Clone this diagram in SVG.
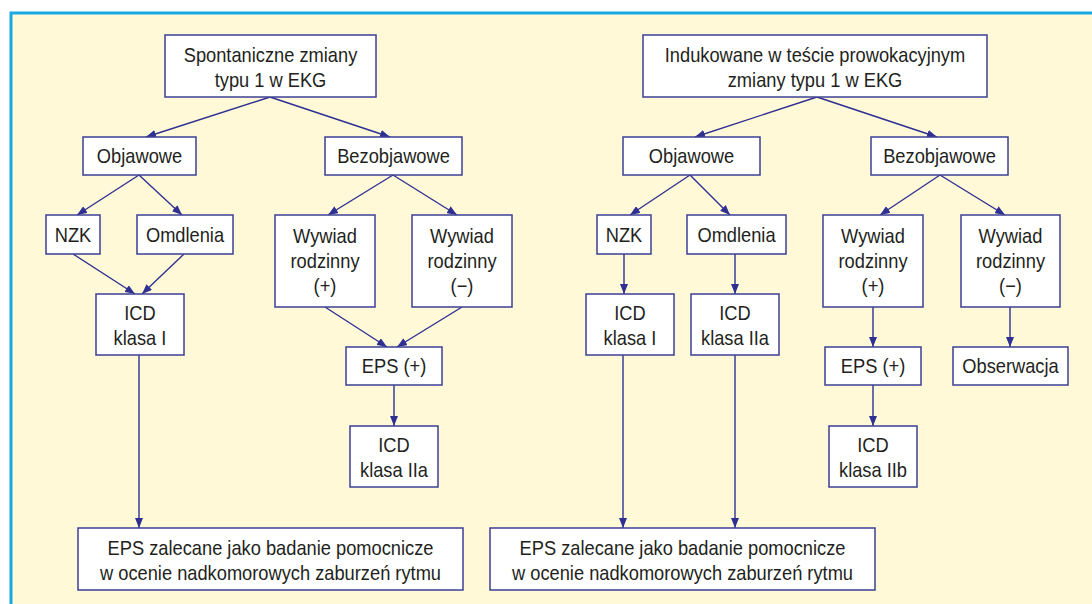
<svg xmlns="http://www.w3.org/2000/svg" width="1092" height="604" viewBox="0 0 1092 604">
<style>
.bx{fill:#ffffff;stroke:#3c3f95;stroke-width:1.5}
.t{font-family:"Liberation Sans",Arial,sans-serif;font-size:21px;fill:#231f20;text-anchor:middle}
.c{stroke:#2e3192;stroke-width:1.4;fill:none;marker-end:url(#ah)}
</style>
<defs>
<marker id="ah" markerUnits="userSpaceOnUse" markerWidth="10" markerHeight="8" refX="10" refY="4" orient="auto">
<path d="M0,0 L10,4 L0,8 z" fill="#2e3192"/>
</marker>
</defs>
<rect x="0" y="0" width="1092" height="604" fill="#ffffff"/>
<rect x="11" y="13" width="1100" height="610" fill="#fff9d8" stroke="#19a9e1" stroke-width="3"/>

<g id="connectors">
<line class="c" x1="270" y1="97" x2="146" y2="137"/>
<line class="c" x1="270" y1="97" x2="390" y2="137"/>
<line class="c" x1="139" y1="175" x2="77" y2="215"/>
<line class="c" x1="139" y1="175" x2="182" y2="215"/>
<line class="c" x1="73" y1="254" x2="135" y2="294"/>
<line class="c" x1="184" y1="254" x2="142" y2="294"/>
<line class="c" x1="139" y1="355" x2="139" y2="528"/>
<line class="c" x1="393" y1="175" x2="328" y2="215"/>
<line class="c" x1="393" y1="175" x2="457" y2="215"/>
<line class="c" x1="325" y1="307" x2="387" y2="347"/>
<line class="c" x1="462" y1="307" x2="397" y2="347"/>
<line class="c" x1="394" y1="385" x2="394" y2="426"/>

<line class="c" x1="817" y1="97" x2="695" y2="137"/>
<line class="c" x1="817" y1="97" x2="937" y2="137"/>
<line class="c" x1="690" y1="175" x2="630" y2="215"/>
<line class="c" x1="690" y1="175" x2="730" y2="215"/>
<line class="c" x1="624" y1="254" x2="624" y2="294"/>
<line class="c" x1="735" y1="254" x2="735" y2="294"/>
<line class="c" x1="623" y1="355" x2="623" y2="528"/>
<line class="c" x1="735" y1="355" x2="735" y2="528"/>
<line class="c" x1="940" y1="175" x2="880" y2="215"/>
<line class="c" x1="940" y1="175" x2="1005" y2="215"/>
<line class="c" x1="873" y1="307" x2="873" y2="347"/>
<line class="c" x1="1010" y1="307" x2="1010" y2="347"/>
<line class="c" x1="873" y1="385" x2="873" y2="426"/>
</g>

<g id="spont">
<rect class="bx" x="165" y="35" width="211" height="62"/>
<text class="t" transform="translate(270.5,62) scale(0.87,1)">Spontaniczne zmiany</text>
<text class="t" transform="translate(270.5,87) scale(0.87,1)">typu 1 w EKG</text>
</g>
<g id="objawowe-l">
<rect class="bx" x="83" y="137" width="113" height="38"/>
<text class="t" transform="translate(139.5,163) scale(0.87,1)">Objawowe</text>
</g>
<g id="bezobjawowe-l">
<rect class="bx" x="325" y="137" width="137" height="38"/>
<text class="t" transform="translate(393.5,163) scale(0.87,1)">Bezobjawowe</text>
</g>
<g id="nzk-l">
<rect class="bx" x="46" y="215" width="54" height="39"/>
<text class="t" transform="translate(73,242) scale(0.87,1)">NZK</text>
</g>
<g id="omdlenia-l">
<rect class="bx" x="137" y="215" width="96" height="39"/>
<text class="t" transform="translate(185,242) scale(0.87,1)">Omdlenia</text>
</g>
<g id="icd1-l">
<rect class="bx" x="96" y="294" width="88" height="61"/>
<text class="t" transform="translate(140,320) scale(0.87,1)">ICD</text>
<text class="t" transform="translate(140,345) scale(0.87,1)">klasa I</text>
</g>
<g id="wywiadp-l">
<rect class="bx" x="275" y="215" width="100" height="92"/>
<text class="t" transform="translate(325,243) scale(0.87,1)">Wywiad</text>
<text class="t" transform="translate(325,268) scale(0.87,1)">rodzinny</text>
<text class="t" transform="translate(325,293) scale(0.87,1)">(+)</text>
</g>
<g id="wywiadm-l">
<rect class="bx" x="412" y="215" width="100" height="92"/>
<text class="t" transform="translate(462,243) scale(0.87,1)">Wywiad</text>
<text class="t" transform="translate(462,268) scale(0.87,1)">rodzinny</text>
<text class="t" transform="translate(462,293) scale(0.87,1)">(−)</text>
</g>
<g id="eps-l">
<rect class="bx" x="346" y="347" width="96" height="38"/>
<text class="t" transform="translate(394,373) scale(0.87,1)">EPS (+)</text>
</g>
<g id="icd2a-l">
<rect class="bx" x="350" y="426" width="88" height="61"/>
<text class="t" transform="translate(394,452) scale(0.87,1)">ICD</text>
<text class="t" transform="translate(394,477) scale(0.87,1)">klasa IIa</text>
</g>
<g id="epsz-l">
<rect class="bx" x="78" y="528" width="385" height="62"/>
<text class="t" transform="translate(270.5,555) scale(0.87,1)">EPS zalecane jako badanie pomocnicze</text>
<text class="t" transform="translate(270.5,580) scale(0.87,1)">w ocenie nadkomorowych zaburzeń rytmu</text>
</g>

<g id="indukowane">
<rect class="bx" x="643" y="35" width="344" height="62"/>
<text class="t" transform="translate(815,62) scale(0.87,1)">Indukowane w teście prowokacyjnym</text>
<text class="t" transform="translate(815,87) scale(0.87,1)">zmiany typu 1 w EKG</text>
</g>
<g id="objawowe-r">
<rect class="bx" x="623" y="137" width="137" height="38"/>
<text class="t" transform="translate(691.5,163) scale(0.87,1)">Objawowe</text>
</g>
<g id="bezobjawowe-r">
<rect class="bx" x="871" y="137" width="137" height="38"/>
<text class="t" transform="translate(939.5,163) scale(0.87,1)">Bezobjawowe</text>
</g>
<g id="nzk-r">
<rect class="bx" x="597" y="215" width="54" height="39"/>
<text class="t" transform="translate(624,242) scale(0.87,1)">NZK</text>
</g>
<g id="omdlenia-r">
<rect class="bx" x="687" y="215" width="99" height="39"/>
<text class="t" transform="translate(736.5,242) scale(0.87,1)">Omdlenia</text>
</g>
<g id="icd1-r">
<rect class="bx" x="586" y="294" width="88" height="61"/>
<text class="t" transform="translate(630,320) scale(0.87,1)">ICD</text>
<text class="t" transform="translate(630,345) scale(0.87,1)">klasa I</text>
</g>
<g id="icd2a-r">
<rect class="bx" x="691" y="294" width="88" height="61"/>
<text class="t" transform="translate(735,320) scale(0.87,1)">ICD</text>
<text class="t" transform="translate(735,345) scale(0.87,1)">klasa IIa</text>
</g>
<g id="wywiadp-r">
<rect class="bx" x="823" y="215" width="100" height="92"/>
<text class="t" transform="translate(873,243) scale(0.87,1)">Wywiad</text>
<text class="t" transform="translate(873,268) scale(0.87,1)">rodzinny</text>
<text class="t" transform="translate(873,293) scale(0.87,1)">(+)</text>
</g>
<g id="wywiadm-r">
<rect class="bx" x="961" y="215" width="99" height="92"/>
<text class="t" transform="translate(1010.5,243) scale(0.87,1)">Wywiad</text>
<text class="t" transform="translate(1010.5,268) scale(0.87,1)">rodzinny</text>
<text class="t" transform="translate(1010.5,293) scale(0.87,1)">(−)</text>
</g>
<g id="eps-r">
<rect class="bx" x="825" y="347" width="96" height="38"/>
<text class="t" transform="translate(873,373) scale(0.87,1)">EPS (+)</text>
</g>
<g id="obserwacja">
<rect class="bx" x="953" y="347" width="115" height="38"/>
<text class="t" transform="translate(1010.5,373) scale(0.87,1)">Obserwacja</text>
</g>
<g id="icd2b-r">
<rect class="bx" x="829" y="426" width="88" height="61"/>
<text class="t" transform="translate(873,452) scale(0.87,1)">ICD</text>
<text class="t" transform="translate(873,477) scale(0.87,1)">klasa IIb</text>
</g>
<g id="epsz-r">
<rect class="bx" x="490" y="528" width="385" height="62"/>
<text class="t" transform="translate(682.5,555) scale(0.87,1)">EPS zalecane jako badanie pomocnicze</text>
<text class="t" transform="translate(682.5,580) scale(0.87,1)">w ocenie nadkomorowych zaburzeń rytmu</text>
</g>
</svg>
